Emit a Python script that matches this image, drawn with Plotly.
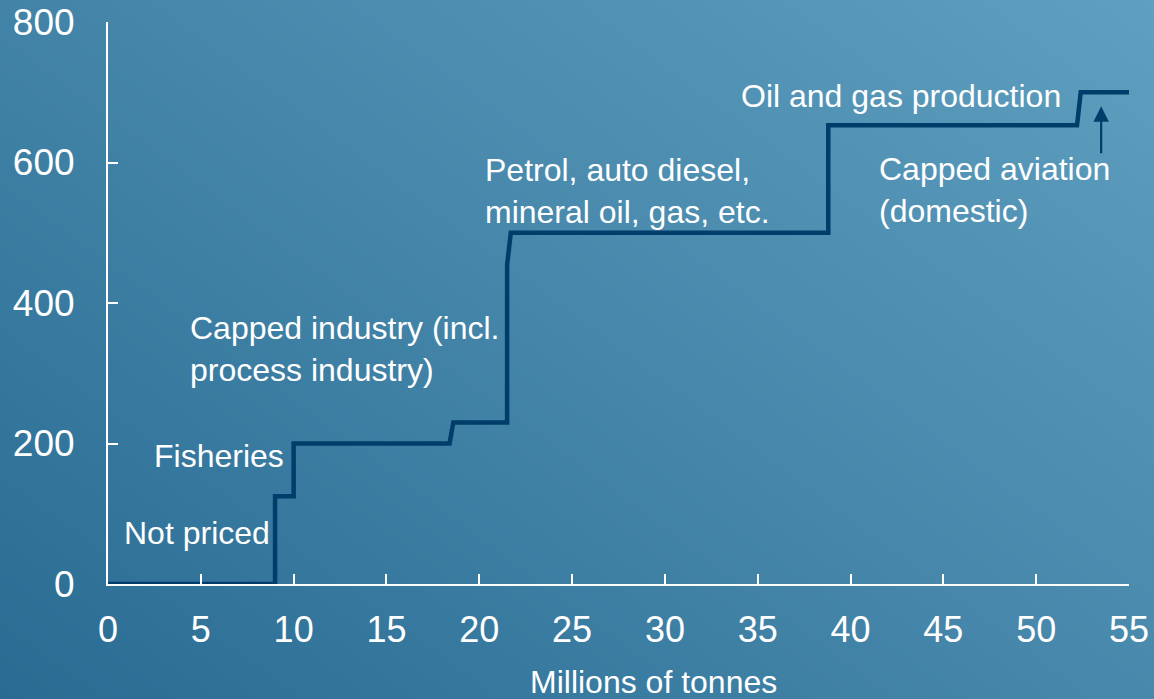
import plotly.graph_objects as go

# Data
step_x = [0, 9, 9, 10, 10, 18.4, 18.6, 21.5, 21.5, 21.7, 38.8, 38.8, 52.2, 52.4, 55]
step_y = [0, 0, 125, 125, 200, 200, 230, 230, 455, 500, 500, 653, 653, 700, 700]

x_ticks = [0, 5, 10, 15, 20, 25, 30, 35, 40, 45, 50, 55]
y_ticks = [0, 200, 400, 600, 800]

labels = ["Not priced", "Fisheries", "Capped industry (incl.<br>process industry)",
          "Petrol, auto diesel,<br>mineral oil, gas, etc.", "Oil and gas production",
          "Capped aviation<br>(domestic)"]
label_x = [8.85, 9.6, 4.33, 20.22, 34.0, 41.4]
label_y = [73, 182, 334, 560, 695, 561]
label_anchor = ["right", "right", "left", "left", "left", "left"]

arrow_from = (53.5, 611)
arrow_to = (53.5, 680)

FONT = "Liberation Sans, Arial, sans-serif"
LINE = "#003d6b"
W, H = 1154, 699

fig = go.Figure()

# background gradient
fig.add_trace(go.Heatmap(
    x=[0, 1], y=[0, 1], z=[[0, 0.55], [0.45, 1]], zsmooth="best",
    colorscale=[[0, "#2a6b93"], [1, "#5fa0c0"]], showscale=False,
    hoverinfo="skip", xaxis="x", yaxis="y"))

fig.add_trace(go.Scatter(
    x=step_x, y=step_y, mode="lines",
    line=dict(color=LINE, width=4.5), xaxis="x2", yaxis="y2",
    hoverinfo="skip", showlegend=False))

annotations = []
for t, x, y, a in zip(labels, label_x, label_y, label_anchor):
    annotations.append(dict(text=t, x=x, y=y, xref="x2", yref="y2",
                            xanchor=a, yanchor="middle", align="left",
                            showarrow=False,
                            font=dict(family=FONT, size=32, color="white")))
annotations.append(dict(text="", x=arrow_to[0], y=arrow_to[1], ax=arrow_from[0], ay=arrow_from[1],
                        xref="x2", yref="y2", axref="x2", ayref="y2",
                        showarrow=True, arrowhead=2, arrowsize=1.4, arrowwidth=2.2,
                        arrowcolor=LINE))
annotations.append(dict(text="Millions of tonnes", x=653 / W, y=1 - 682 / H,
                        xref="paper", yref="paper", xanchor="center", yanchor="middle",
                        showarrow=False,
                        font=dict(family=FONT, size=32, color="white")))

fig.update_layout(
    width=W, height=H,
    margin=dict(l=0, r=0, t=0, b=0, pad=0, autoexpand=False),
    paper_bgcolor="#3a7ea4", plot_bgcolor="rgba(0,0,0,0)",
    showlegend=False,
    xaxis=dict(domain=[0, 1], range=[0, 1], visible=False, fixedrange=True),
    yaxis=dict(domain=[0, 1], range=[0, 1], visible=False, fixedrange=True),
    xaxis2=dict(domain=[108 / W, 1129 / W], range=[0, 55], anchor="y2",
                tickvals=x_ticks, ticks="inside", ticklen=10, tickwidth=1.5,
                tickcolor="white", showline=True, linecolor="white", linewidth=2,
                showgrid=False, zeroline=False, ticklabelstandoff=13,
                tickfont=dict(family=FONT, size=36, color="white")),
    yaxis2=dict(domain=[1 - 584 / H, 1 - 22 / H], range=[0, 800], anchor="x2",
                tickvals=y_ticks, ticks="inside", ticklen=10, tickwidth=1.5,
                tickcolor="white", showline=True, linecolor="white", linewidth=2,
                showgrid=False, zeroline=False, ticklabelstandoff=24,
                tickfont=dict(family=FONT, size=37, color="white")),
    annotations=annotations,
)

fig.write_html("out.html", config={"displayModeBar": False},
               post_script="document.body.style.margin='0';document.body.style.overflow='hidden';")
